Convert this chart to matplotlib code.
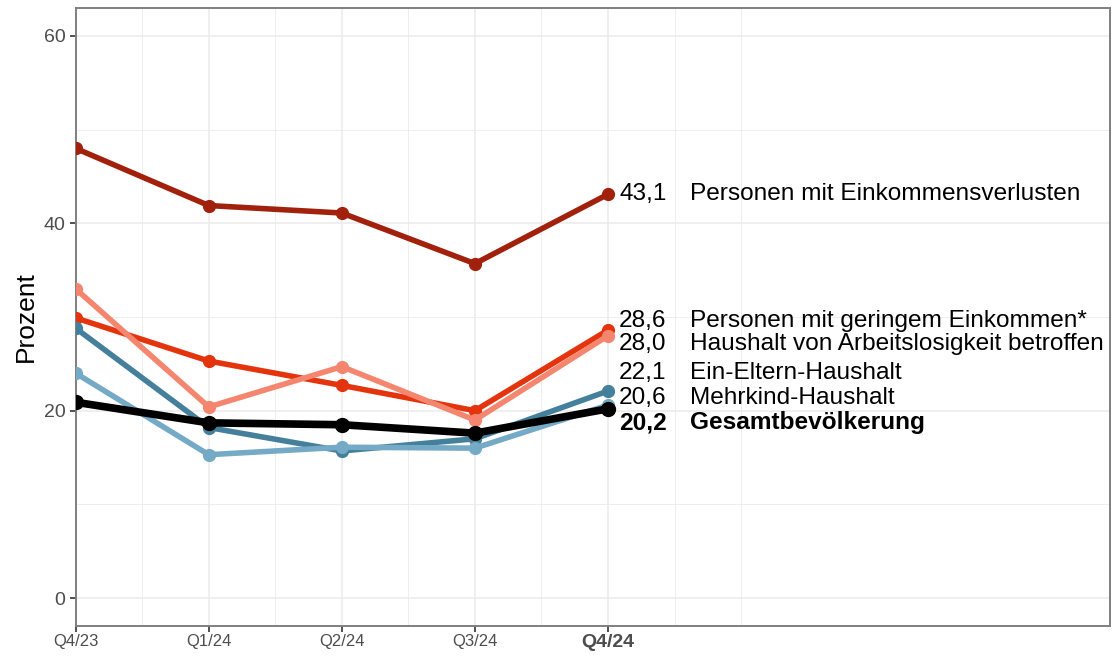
import matplotlib.pyplot as plt
from matplotlib.ticker import MultipleLocator, FixedLocator

plt.rcParams['font.family'] = ['Liberation Sans', 'DejaVu Sans']

quarters = ['Q4/23', 'Q1/24', 'Q2/24', 'Q3/24', 'Q4/24']
x = [0, 1, 2, 3, 4]

verluste = [48.0, 41.9, 41.1, 35.7, 43.1]
gering = [29.9, 25.3, 22.7, 20.0, 28.6]
arbeitslos = [33.0, 20.4, 24.7, 19.0, 28.0]
ein_eltern = [28.8, 18.2, 15.7, 17.0, 22.1]
mehrkind = [24.0, 15.3, 16.1, 16.0, 20.6]
gesamt = [20.9, 18.7, 18.5, 17.6, 20.2]

names = ['Personen mit Einkommensverlusten', 'Personen mit geringem Einkommen*',
         'Haushalt von Arbeitslosigkeit betroffen', 'Ein-Eltern-Haushalt',
         'Mehrkind-Haushalt', 'Gesamtbevölkerung']
series = [verluste, gering, arbeitslos, ein_eltern, mehrkind, gesamt]
colors = ['#A2210D', '#E3340E', '#F4866F', '#44809C', '#74AAC5', '#000000']
# label positions after de-overlapping
label_y = [43.1, 29.6, 27.1, 24.0, 21.3, 18.7]

fig, ax = plt.subplots(figsize=(11.13, 6.57), dpi=100)
fig.subplots_adjust(left=0.068, right=0.997, top=0.988, bottom=0.047)

for vals, c in zip(series, colors):
    lw = 5.5 if c == '#000000' else 4.0
    ms = 10 if c == '#000000' else 8.5
    ax.plot(x, vals, color=c, lw=lw, marker='o', ms=ms, solid_capstyle='round', zorder=3)

for vals, name, ly in zip(series, names, label_y):
    w = 'bold' if name == 'Gesamtbevölkerung' else 'normal'
    ax.text(4.44, ly, f'{vals[-1]:.1f}'.replace('.', ','), ha='right', va='center',
            fontsize=17.6, fontweight=w, color='black')
    ax.text(4.62, ly, name, ha='left', va='center', fontsize=17.6, fontweight=w, color='black')

ax.set_xlim(0, 7.77)
ax.set_ylim(-3, 63)
ax.set_xticks(x)
ax.set_xticklabels(quarters, fontsize=12, color='#4D4D4D')
ax.get_xticklabels()[-1].set_fontweight('bold')
ax.get_xticklabels()[-1].set_fontsize(14)
ax.set_yticks([0, 20, 40, 60])
ax.tick_params(axis='y', labelsize=14, labelcolor='#4D4D4D')
ax.tick_params(axis='x', pad=2)
# vertical grid stops at x=5 like the reference
ax.xaxis.set_minor_locator(FixedLocator([0.5, 1.5, 2.5, 3.5, 4.5, 5.0]))
ax.yaxis.set_minor_locator(MultipleLocator(10))
ax.tick_params(which='minor', length=0)
ax.tick_params(which='major', length=4, width=1.2, color='#333333')
ax.grid(which='major', color='#EBEBEB', lw=1.1)
ax.grid(which='minor', color='#EBEBEB', lw=0.6)
ax.set_axisbelow(True)
ax.set_ylabel('Prozent', fontsize=19)

for s in ax.spines.values():
    s.set_color('#7F7F7F')
    s.set_linewidth(1.4)

fig.savefig('out.png', dpi=100)
